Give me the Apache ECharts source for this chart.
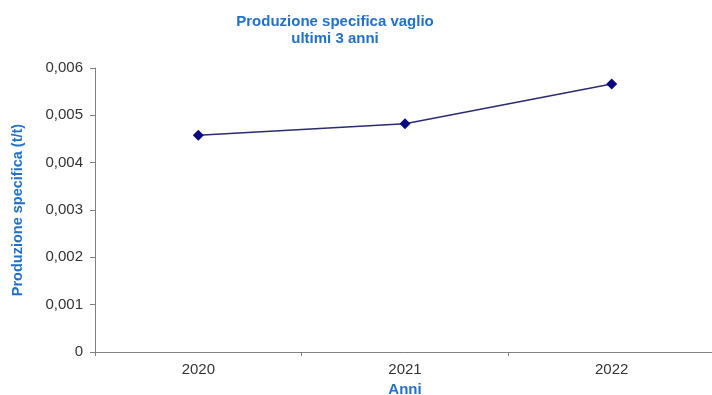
<!DOCTYPE html>
<html><head><meta charset="utf-8">
<script src="https://cdn.jsdelivr.net/npm/echarts@6/dist/echarts.min.js"></script>
<style>html,body{margin:0;padding:0;background:#fff}#c{width:712px;height:395px}</style>
</head><body><div id="c"></div>
<script>
const categories = ['2020', '2021', '2022'];
const values = [0.00458, 0.00482, 0.00566];
const yTicks = [0, 0.001, 0.002, 0.003, 0.004, 0.005, 0.006];

const chart = echarts.init(document.getElementById('c'));
const blue = '#2270c8';
chart.setOption({
  animation: false,
  title: {
    text: 'Produzione specifica vaglio\nultimi 3 anni',
    left: 330, top: 8, textAlign: 'center',
    textStyle: { color: blue, fontSize: 15, fontWeight: 'bold', fontFamily: 'Liberation Sans', lineHeight: 17 }
  },
  grid: { left: 95, top: 68, width: 620, height: 284, outerBoundsMode: 'none', containLabel: false },
  xAxis: {
    type: 'category', data: categories, boundaryGap: true,
    name: 'Anni', nameLocation: 'middle', nameGap: 30,
    nameTextStyle: { color: blue, fontSize: 15, fontWeight: 'bold', fontFamily: 'Liberation Sans' },
    axisLine: { lineStyle: { color: '#808080' } },
    axisTick: { show: true, length: 4, lineStyle: { color: '#808080' } },
    axisLabel: { color: '#333', fontSize: 15, margin: 10, fontFamily: 'Liberation Sans' },
    splitLine: { show: false }
  },
  yAxis: {
    type: 'value', min: 0, max: 0.006, interval: 0.001,
    name: 'Produzione specifica (t/t)', nameLocation: 'middle', nameGap: 70, nameRotate: 90,
    nameTextStyle: { color: blue, fontSize: 14.5, fontWeight: 'bold', fontFamily: 'Liberation Sans' },
    axisLine: { show: true, lineStyle: { color: '#808080' } },
    axisTick: { show: true, length: 5, lineStyle: { color: '#808080' } },
    axisLabel: { color: '#333', fontSize: 15, margin: 12, fontFamily: 'Liberation Sans',
      formatter: v => v === 0 ? '0' : v.toFixed(3).replace('.', ',') },
    splitLine: { show: false }
  },
  series: [{
    type: 'line', data: values,
    symbol: 'diamond', symbolSize: 11,
    lineStyle: { color: '#2b2b70', width: 1.5 },
    itemStyle: { color: '#0a0a80' }
  }]
});
</script></body></html>
